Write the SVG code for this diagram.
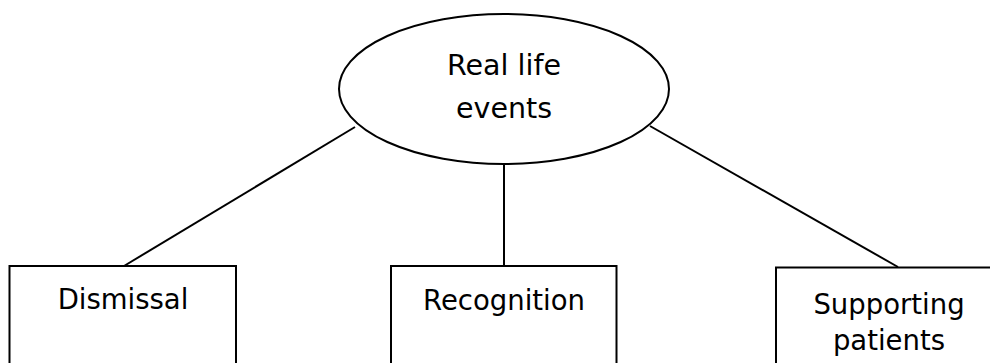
<svg xmlns="http://www.w3.org/2000/svg" width="990" height="363" viewBox="0 0 990 363">
<style>
.shape{fill:#fff;stroke:#000;stroke-width:2}
.conn line{stroke:#000;stroke-width:2}
text{font-family:"DejaVu Sans","Liberation Sans",sans-serif;font-size:27.5px;fill:#000;text-anchor:middle}
</style>
<rect width="990" height="363" fill="#fff"/>
<g id="connectors" class="conn">
<line x1="355" y1="127" x2="124" y2="266"/>
<line x1="504" y1="164" x2="504" y2="266"/>
<line x1="650" y1="126" x2="898" y2="267"/>
</g>
<g id="node-root">
<ellipse class="shape" cx="504" cy="89" rx="165" ry="75"/>
<text x="504" y="75" style="font-size:28.5px">Real life</text>
<text x="504" y="118" style="font-size:28.5px">events</text>
</g>
<g id="node-dismissal">
<rect class="shape" x="9.5" y="266" width="226.5" height="120"/>
<text x="123" y="309">Dismissal</text>
</g>
<g id="node-recognition">
<rect class="shape" x="391" y="266" width="225.5" height="120"/>
<text x="504" y="310">Recognition</text>
</g>
<g id="node-supporting">
<rect class="shape" x="776" y="267.5" width="226" height="120"/>
<text x="889" y="314">Supporting</text>
<text x="889" y="350">patients</text>
</g>
</svg>
